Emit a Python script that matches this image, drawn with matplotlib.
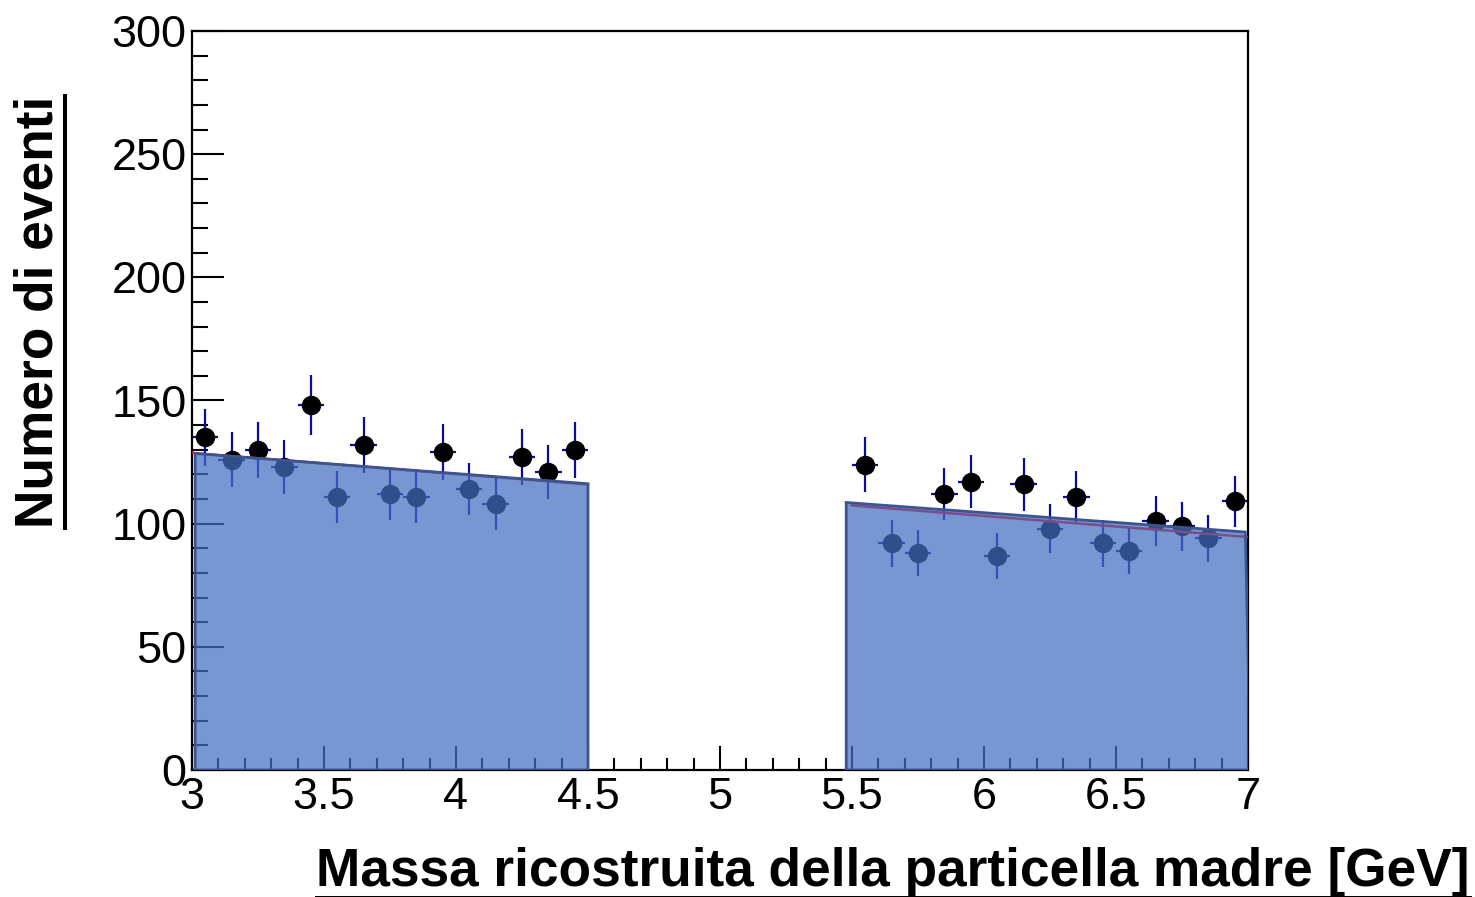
import numpy as np
import matplotlib
matplotlib.use("Agg")
import matplotlib.pyplot as plt
from matplotlib.lines import Line2D
from matplotlib.ticker import MultipleLocator, FuncFormatter

plt.rcParams['font.family'] = ['Liberation Sans', 'DejaVu Sans']

# data
left_centers = [3.05, 3.15, 3.25, 3.35, 3.45, 3.55, 3.65, 3.75, 3.85, 3.95, 4.05, 4.15, 4.25, 4.35, 4.45]
left_counts = [135, 126, 130, 123, 148, 111, 132, 112, 111, 129, 114, 108, 127, 121, 130]
right_centers = [5.55, 5.65, 5.75, 5.85, 5.95, 6.05, 6.15, 6.25, 6.35, 6.45, 6.55, 6.65, 6.75, 6.85, 6.95]
right_counts = [124, 92, 88, 112, 117, 87, 116, 98, 111, 92, 89, 101, 99, 94, 109]

fit_x_left = [3.0, 4.5]
fit_y_left = [128.7, 115.9]
fit_x_right = [5.5, 7.0]
fit_y_right = [107.4, 94.6]

band_left_x = [3.012, 3.012, 4.5, 4.5]
band_left_y = [0, 128.5, 116.2, 0]
band_right_x = [5.478, 5.478, 6.99, 7.01]
band_right_y = [0, 108.6, 96.6, 0]

xlabel = "Massa ricostruita della particella madre [GeV]"
ylabel = "Numero di eventi"

fig = plt.figure(figsize=(14.75, 8.97), dpi=100)
ax = fig.add_axes([192/1475, 1-770/897, (1248-192)/1475, (770-31)/897])

x = np.array(left_centers + right_centers)
yv = np.array(left_counts + right_counts, dtype=float)
ax.errorbar(x, yv, yerr=np.sqrt(yv), xerr=0.05, fmt='o', color='black',
            ecolor='#0a0a9e', elinewidth=1.6, markersize=13, capsize=0, zorder=2)

ax.plot(fit_x_left, fit_y_left, color='red', lw=1.8, zorder=3)
ax.plot(fit_x_right, fit_y_right, color='red', lw=1.8, zorder=3)

for bx, by in [(band_left_x, band_left_y), (band_right_x, band_right_y)]:
    ax.fill(bx, by, facecolor='#446ec0', alpha=0.72, edgecolor='none', zorder=4)
    ax.fill(bx, by, facecolor='none', edgecolor='#3a5590', lw=2.0, zorder=5)

ax.set_xlim(3, 7)
ax.set_ylim(0, 300)
ax.xaxis.set_major_locator(MultipleLocator(0.5))
ax.xaxis.set_minor_locator(MultipleLocator(0.1))
ax.yaxis.set_major_locator(MultipleLocator(50))
ax.yaxis.set_minor_locator(MultipleLocator(10))

def fmt(v, p):
    return ('%g' % v)
ax.xaxis.set_major_formatter(FuncFormatter(fmt))
ax.yaxis.set_major_formatter(FuncFormatter(fmt))

ax.tick_params(axis='both', which='both', direction='in', top=False, right=False,
               width=1.5, labelsize=32.5, color='black')
ax.tick_params(axis='y', which='major', length=23, pad=4)
ax.tick_params(axis='y', which='minor', length=11.5)
ax.tick_params(axis='x', which='major', length=17, pad=5)
ax.tick_params(axis='x', which='minor', length=8.6)
for s in ax.spines.values():
    s.set_linewidth(1.6)

xt = fig.text(1470/1475, 1-872/897, xlabel, ha='right', va='center',
              fontsize=38.3, fontweight='bold')
yt = fig.text(39/1475, 1-96/897, ylabel, ha='center', va='top', rotation=90,
              fontsize=38.3, fontweight='bold')

fig.canvas.draw()
r = fig.canvas.get_renderer()
W, H = fig.bbox.width, fig.bbox.height
bb = xt.get_window_extent(r)
yline = bb.y0 - 1
fig.add_artist(Line2D([bb.x0/W, bb.x1/W], [yline/H, yline/H], color='black', lw=2.9,
                      transform=fig.transFigure))
bb = yt.get_window_extent(r)
xline = bb.x1 + 1
fig.add_artist(Line2D([xline/W, xline/W], [bb.y0/H, bb.y1/H], color='black', lw=2.9,
                      transform=fig.transFigure))

fig.savefig('out.png', dpi=100)
